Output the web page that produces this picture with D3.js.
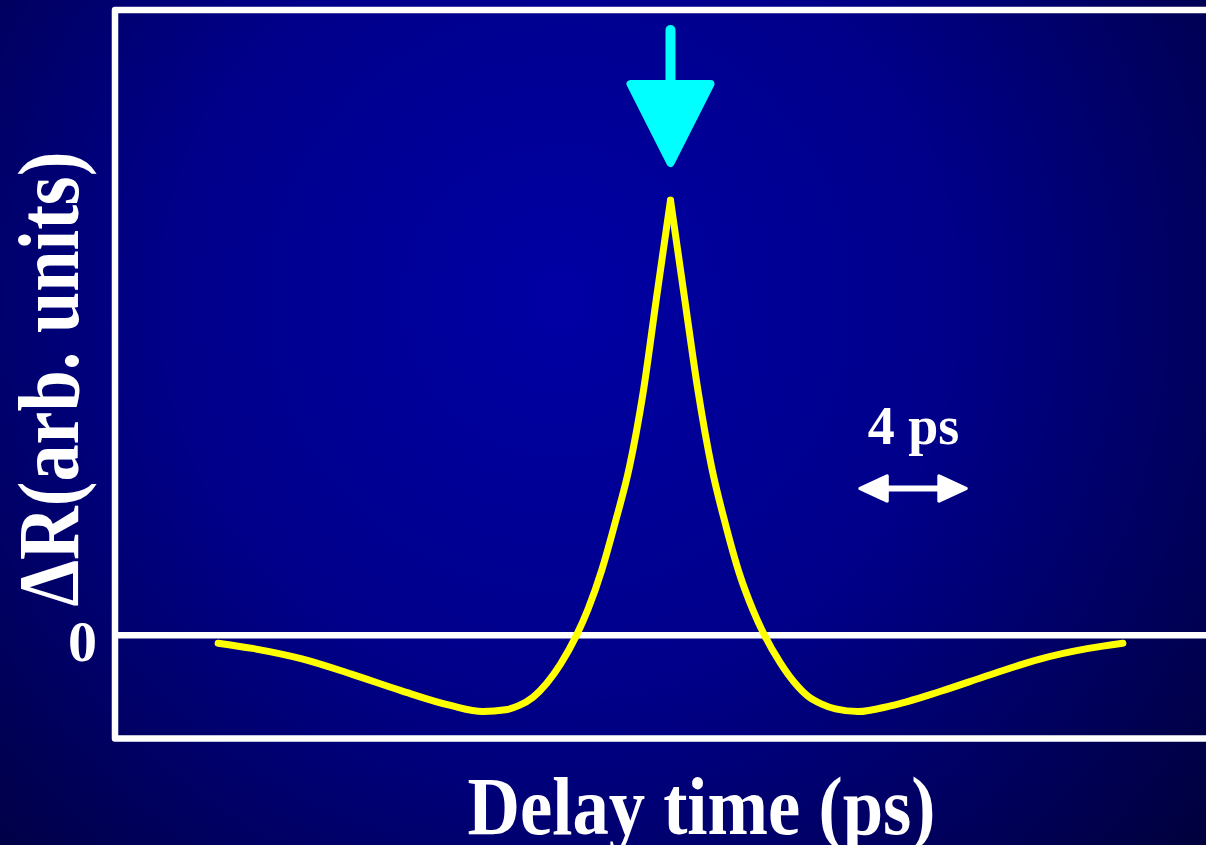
<!DOCTYPE html>
<html>
<head>
<meta charset="utf-8">
<script src="https://cdn.jsdelivr.net/npm/d3@7"></script>
<style>
  html, body { margin: 0; padding: 0; background: #000040; overflow: hidden; }
  svg { display: block; }
  text { font-family: "Liberation Serif", "Times New Roman", serif; font-weight: bold; fill: #ffffff; }
</style>
</head>
<body>
<svg id="chart" width="1206" height="845"></svg>
<script>
// Reflectivity change versus pump-probe delay (arb. units), peak at zero delay
const delayPs = [-16.45, -15.2, -13.4, -11.6, -9.8, -8.0, -6.82, -6.0, -5.5, -5.0, -4.5, -4.0, -3.42, -3.0, -2.5, -2.0, -1.5, -1.0, -0.5, 0,
                 0.5, 1.0, 1.5, 2.0, 2.5, 3.0, 3.42, 4.0, 4.5, 5.0, 5.5, 6.0, 6.82, 8.0, 9.8, 11.6, 13.4, 15.2, 16.45];
const deltaR = [-0.018, -0.030, -0.054, -0.089, -0.127, -0.161, -0.175, -0.171, -0.161, -0.142, -0.110, -0.066, 0, 0.060, 0.150, 0.262, 0.385, 0.556, 0.780, 1.0,
                0.780, 0.562, 0.385, 0.255, 0.143, 0.058, 0, -0.064, -0.108, -0.140, -0.158, -0.169, -0.175, -0.162, -0.129, -0.091, -0.055, -0.030, -0.018];
const peakDelay = 0;            // marked by the arrow
const scaleBarPs = [6.82, 10.82]; // "4 ps" scale bar span
const yTickValues = [0];
const yTickLabels = ["0"];
const xTitle = "Delay time (ps)";
const yTitle = "\u0394R(arb. units)";
const scaleBarLabel = "4 ps";

const W = 1206, H = 845;
const svg = d3.select("#chart");

// background: radial blue glow
const defs = svg.append("defs");
const grad = defs.append("radialGradient")
  .attr("id", "bg").attr("gradientUnits", "userSpaceOnUse")
  .attr("cx", 560).attr("cy", 300).attr("r", 860);
grad.append("stop").attr("offset", 0).attr("stop-color", "#0000a4");
grad.append("stop").attr("offset", 0.45).attr("stop-color", "#00008a");
grad.append("stop").attr("offset", 1).attr("stop-color", "#00003a");
svg.append("rect").attr("width", W).attr("height", H).attr("fill", "url(#bg)");

const x = d3.scaleLinear().domain([-20.2, 20.0]).range([115, 1220.5]);
const y = d3.scaleLinear().domain([-0.237, 1.437]).range([738.5, 10]);

// plot frame (open on the right)
const [x0, x1] = x.range();
const [yb, yt] = y.range();
svg.append("path")
  .attr("d", `M${x1 + 10},${yt} L${x0},${yt} L${x0},${yb} L${x1 + 10},${yb}`)
  .attr("fill", "none").attr("stroke", "#ffffff").attr("stroke-width", 6.5)
  .attr("stroke-linejoin", "round");

// zero baseline
yTickValues.forEach((v, i) => {
  svg.append("line")
    .attr("x1", x0).attr("x2", x1 + 10)
    .attr("y1", y(v)).attr("y2", y(v))
    .attr("stroke", "#ffffff").attr("stroke-width", 6.5);
  svg.append("text")
    .attr("x", 82.5).attr("y", y(v) + 26)
    .attr("text-anchor", "middle").attr("font-size", 58)
    .text(yTickLabels[i]);
});

// curve: drawn in two halves so the peak stays a sharp cusp
const pts = delayPs.map((t, i) => [t, deltaR[i]]);
const iPeak = delayPs.indexOf(peakDelay);
const line = d3.line().x(d => x(d[0])).y(d => y(d[1])).curve(d3.curveMonotoneX);
[pts.slice(0, iPeak + 1), pts.slice(iPeak)].forEach(seg => {
  svg.append("path").attr("d", line(seg))
    .attr("fill", "none").attr("stroke", "#ffff00")
    .attr("stroke-width", 7).attr("stroke-linecap", "round").attr("stroke-linejoin", "round");
});

// cyan arrow pointing down at the peak
const ax = x(peakDelay);
const arrow = svg.append("g").attr("fill", "#00ffff").attr("stroke", "#00ffff");
arrow.append("line").attr("x1", ax).attr("x2", ax).attr("y1", 30).attr("y2", 90)
  .attr("stroke-width", 10).attr("stroke-linecap", "round");
arrow.append("path")
  .attr("d", `M${ax - 40},${84} L${ax + 40},${84} L${ax},${163} Z`)
  .attr("stroke-width", 8).attr("stroke-linejoin", "round");

// 4 ps scale bar
const sx0 = x(scaleBarPs[0]), sx1 = x(scaleBarPs[1]), sy = 488.5;
const bar = svg.append("g").attr("fill", "#ffffff").attr("stroke", "#ffffff");
bar.append("line").attr("x1", sx0 + 20).attr("x2", sx1 - 20).attr("y1", sy).attr("y2", sy)
  .attr("stroke-width", 6);
bar.append("path")
  .attr("d", `M${sx0 + 2},${sy} L${sx0 + 29},${sy - 12.5} L${sx0 + 29},${sy + 12.5} Z`)
  .attr("stroke-width", 3.5).attr("stroke-linejoin", "round");
bar.append("path")
  .attr("d", `M${sx1 - 2},${sy} L${sx1 - 29},${sy - 12.5} L${sx1 - 29},${sy + 12.5} Z`)
  .attr("stroke-width", 3.5).attr("stroke-linejoin", "round");
svg.append("text")
  .attr("x", (sx0 + sx1) / 2 + 0.5).attr("y", 444)
  .attr("text-anchor", "middle").attr("font-size", 54)
  .text(scaleBarLabel);

// axis titles
svg.append("text")
  .attr("x", 701.5).attr("y", 834)
  .attr("text-anchor", "middle").attr("font-size", 82)
  .attr("textLength", 468).attr("lengthAdjust", "spacingAndGlyphs")
  .text(xTitle);
svg.append("text")
  .attr("transform", "translate(78,379) rotate(-90)")
  .attr("text-anchor", "middle").attr("font-size", 86)
  .attr("textLength", 455).attr("lengthAdjust", "spacingAndGlyphs")
  .text(yTitle);
</script>
</body>
</html>
